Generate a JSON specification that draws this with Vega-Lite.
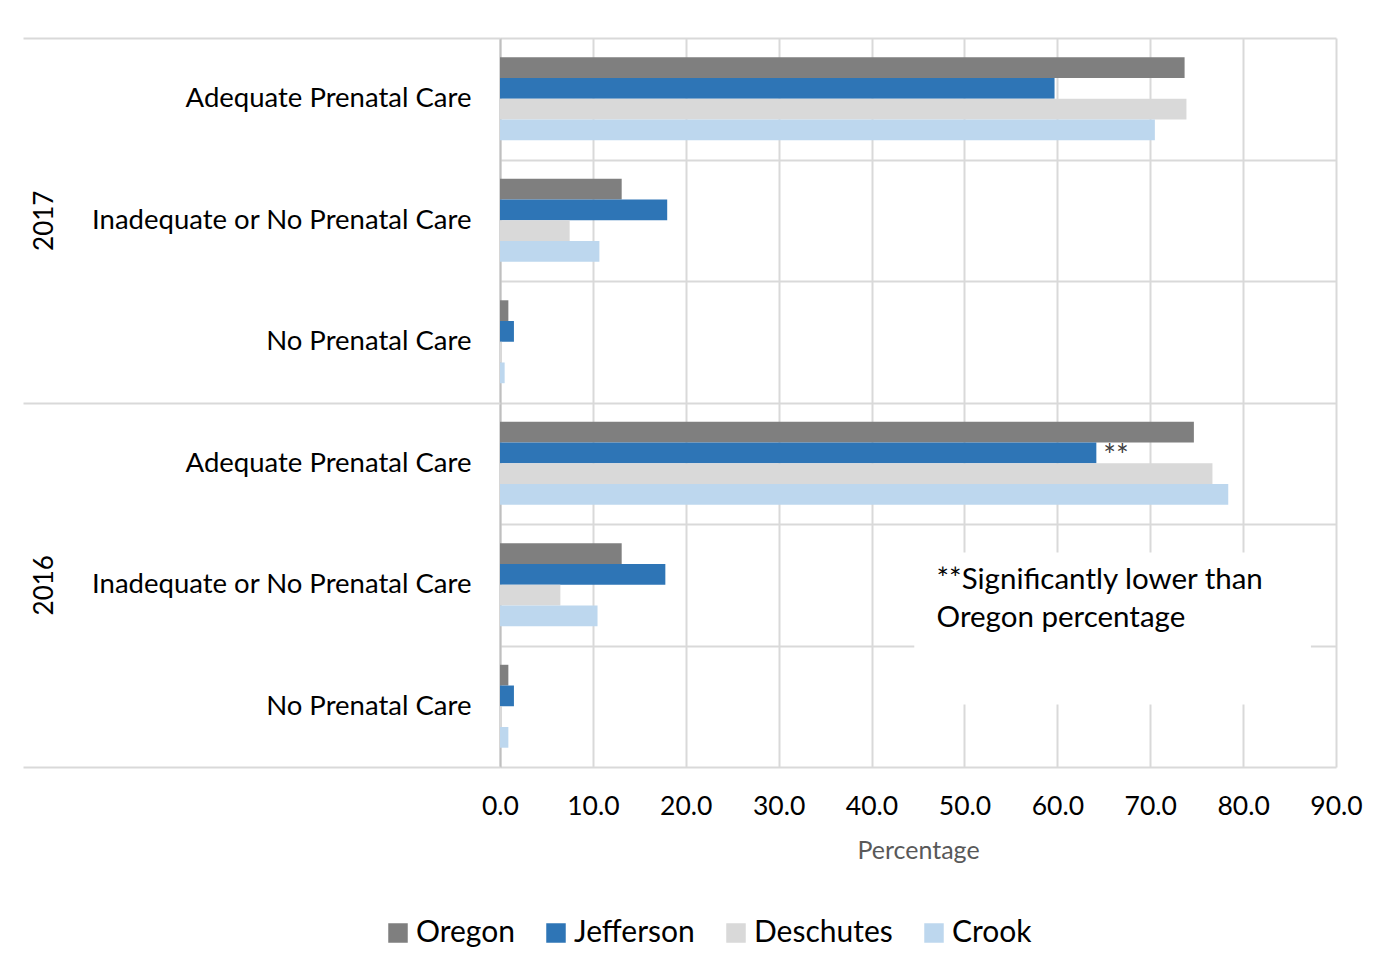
{
  "$schema": "https://vega.github.io/schema/vega-lite/v6.json",
  "width": 836,
  "height": 729,
  "padding": {"top": 24, "left": 22, "right": 5, "bottom": 5},
  "background": "#ffffff",
  "config": {
    "font": "Lato",
    "view": {"stroke": null},
    "axis": {"labelFont": "Lato", "titleFont": "Lato"},
    "legend": {"labelFont": "Lato"}
  },
  "datasets": {
    "bars": [
      {"row": "2017|Adequate Prenatal Care", "year": "2017", "county": "Oregon", "value": 73.7},
      {"row": "2017|Adequate Prenatal Care", "year": "2017", "county": "Jefferson", "value": 59.7},
      {"row": "2017|Adequate Prenatal Care", "year": "2017", "county": "Deschutes", "value": 73.9},
      {"row": "2017|Adequate Prenatal Care", "year": "2017", "county": "Crook", "value": 70.5},
      {"row": "2017|Inadequate or No Prenatal Care", "year": "2017", "county": "Oregon", "value": 13.1},
      {"row": "2017|Inadequate or No Prenatal Care", "year": "2017", "county": "Jefferson", "value": 18.0},
      {"row": "2017|Inadequate or No Prenatal Care", "year": "2017", "county": "Deschutes", "value": 7.5},
      {"row": "2017|Inadequate or No Prenatal Care", "year": "2017", "county": "Crook", "value": 10.7},
      {"row": "2017|No Prenatal Care", "year": "2017", "county": "Oregon", "value": 0.9},
      {"row": "2017|No Prenatal Care", "year": "2017", "county": "Jefferson", "value": 1.5},
      {"row": "2017|No Prenatal Care", "year": "2017", "county": "Deschutes", "value": 0.2},
      {"row": "2017|No Prenatal Care", "year": "2017", "county": "Crook", "value": 0.5},
      {"row": "2016|Adequate Prenatal Care", "year": "2016", "county": "Oregon", "value": 74.7},
      {"row": "2016|Adequate Prenatal Care", "year": "2016", "county": "Jefferson", "value": 64.2, "flag": "**"},
      {"row": "2016|Adequate Prenatal Care", "year": "2016", "county": "Deschutes", "value": 76.7},
      {"row": "2016|Adequate Prenatal Care", "year": "2016", "county": "Crook", "value": 78.4},
      {"row": "2016|Inadequate or No Prenatal Care", "year": "2016", "county": "Oregon", "value": 13.1},
      {"row": "2016|Inadequate or No Prenatal Care", "year": "2016", "county": "Jefferson", "value": 17.8},
      {"row": "2016|Inadequate or No Prenatal Care", "year": "2016", "county": "Deschutes", "value": 6.5},
      {"row": "2016|Inadequate or No Prenatal Care", "year": "2016", "county": "Crook", "value": 10.5},
      {"row": "2016|No Prenatal Care", "year": "2016", "county": "Oregon", "value": 0.9},
      {"row": "2016|No Prenatal Care", "year": "2016", "county": "Jefferson", "value": 1.5},
      {"row": "2016|No Prenatal Care", "year": "2016", "county": "Deschutes", "value": 0.2},
      {"row": "2016|No Prenatal Care", "year": "2016", "county": "Crook", "value": 0.9}
    ],
    "notes": [
      {"year": "2016", "text": ["**Significantly lower than", "Oregon percentage"]}
    ]
  },
  "layer": [
    {
      "data": {"name": "bars"},
      "encoding": {
        "y": {
          "field": "row",
          "type": "nominal",
          "title": null,
          "scale": {
            "domain": ["2017|Adequate Prenatal Care", "2017|Inadequate or No Prenatal Care", "2017|No Prenatal Care", "2016|Adequate Prenatal Care", "2016|Inadequate or No Prenatal Care", "2016|No Prenatal Care"],
            "paddingInner": 0,
            "paddingOuter": 0
          },
          "axis": {
            "title": null,
            "labelExpr": "split(datum.label, '|')[1]",
            "labelFontSize": 27.5,
            "labelColor": "#000000",
            "labelPadding": 29,
            "labelLimit": 0,
            "ticks": false,
            "domain": true,
            "domainColor": "#bfbfbf",
            "domainWidth": 2,
            "grid": true,
            "tickBand": "extent",
            "gridColor": "#d9d9d9",
            "gridWidth": 2
          }
        },
        "yOffset": {
          "field": "county",
          "type": "nominal",
          "scale": {"domain": ["Oregon", "Jefferson", "Deschutes", "Crook"], "paddingInner": 0, "paddingOuter": 0.93}
        },
        "x": {
          "field": "value",
          "type": "quantitative",
          "title": "Percentage",
          "scale": {"domain": [0, 90], "nice": false},
          "axis": {
            "values": [0, 10, 20, 30, 40, 50, 60, 70, 80, 90],
            "format": ".1f",
            "grid": true,
            "gridColor": "#d9d9d9",
            "gridWidth": 2,
            "ticks": false,
            "domain": false,
            "labelFlush": false,
            "labelFontSize": 26.5,
            "labelColor": "#000000",
            "labelPadding": 26,
            "titleFontSize": 25,
            "titleColor": "#595959",
            "titleFontWeight": "normal",
            "titlePadding": 19
          }
        }
      },
      "layer": [
        {
          "mark": {"type": "bar"},
          "encoding": {
            "color": {
              "field": "county",
              "type": "nominal",
              "scale": {"domain": ["Oregon", "Jefferson", "Deschutes", "Crook"], "range": ["#7f7f7f", "#2e75b6", "#d9d9d9", "#bdd7ee"]},
              "legend": {
                "orient": "none",
                "legendX": -117,
                "legendY": 880,
                "direction": "horizontal",
                "title": null,
                "symbolType": "square",
                "symbolSize": 380,
                "symbolStrokeWidth": 0,
                "symbolOpacity": 1,
                "labelFontSize": 30,
                "labelOffset": 3,
                "labelColor": "#000000",
                "columnPadding": 26
              }
            }
          }
        },
        {
          "transform": [{"filter": "datum.flag == '**'"}],
          "mark": {"type": "text", "align": "left", "baseline": "middle", "dx": 7, "dy": 4, "fontSize": 30, "color": "#404040"},
          "encoding": {"text": {"field": "flag"}}
        }
      ]
    },
    {
      "data": {"name": "notes"},
      "encoding": {
        "y": {
          "field": "year",
          "type": "nominal",
          "bandPosition": 0.62,
          "scale": {"domain": ["2017", "2016"], "paddingInner": 0, "paddingOuter": 0},
          "axis": {
            "orient": "left",
            "title": null,
            "domain": false,
            "grid": false,
            "ticks": true,
            "tickBand": "extent",
            "tickSize": 477,
            "tickColor": "#d9d9d9",
            "tickWidth": 2,
            "labelAngle": 270,
            "labelAlign": "center",
            "labelBaseline": "bottom",
            "labelPadding": -34,
            "labelFontSize": 26,
            "labelColor": "#000000"
          }
        }
      },
      "layer": [
        {
          "mark": {"type": "rule", "color": "#ffffff", "strokeWidth": 152, "strokeCap": "butt"},
          "encoding": {
            "x": {"datum": 44.6, "type": "quantitative", "title": "Percentage"},
            "x2": {"datum": 87.3}
          }
        },
        {
          "mark": {"type": "text", "align": "left", "baseline": "middle", "dy": -48, "fontSize": 29.5, "lineHeight": 38, "color": "#000000"},
          "encoding": {
            "x": {"datum": 47, "type": "quantitative", "title": "Percentage"},
            "text": {"field": "text"}
          }
        }
      ]
    }
  ],
  "resolve": {"scale": {"y": "independent"}}
}
